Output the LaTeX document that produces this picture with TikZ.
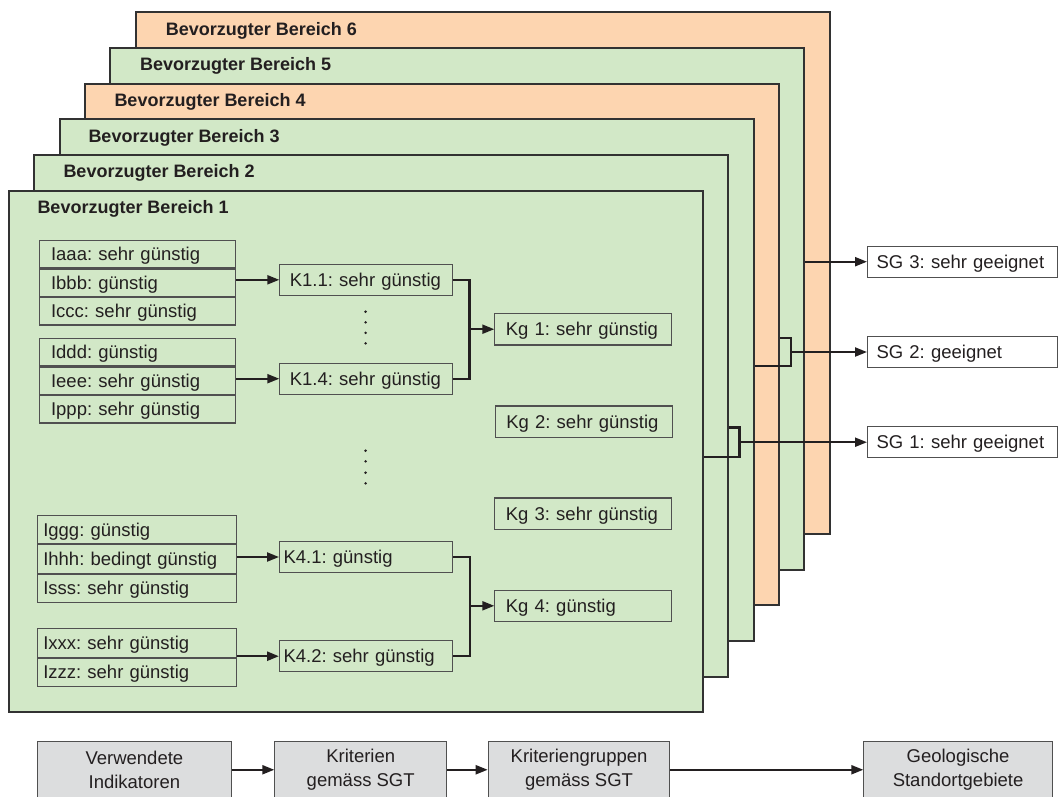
\documentclass[tikz,border=0pt]{standalone}
\usepackage{fontspec}
\setmainfont{Liberation Sans}
\usetikzlibrary{arrows.meta}
\frenchspacing

\definecolor{panelgreen}{RGB}{210,232,199}
\definecolor{panelorange}{RGB}{253,213,176}
\definecolor{frameline}{RGB}{50,50,50}
\definecolor{boxline}{RGB}{80,80,80}
\definecolor{legendfill}{RGB}{220,221,222}
\definecolor{ink}{RGB}{35,31,32}

\newcommand{\rfont}{\fontsize{18.5pt}{23.3pt}\selectfont\hyphenpenalty=10000 }
\newcommand{\tfont}{\fontsize{18pt}{22pt}\selectfont\bfseries}

\begin{document}
\begin{tikzpicture}[x=1pt,y=-1pt,
  every node/.style={text=ink},
  panel/.style={draw=frameline, line width=2pt, anchor=north west,
    minimum width=694pt, minimum height=521.5pt, inner sep=0pt},
  greenpanel/.style={panel, fill=panelgreen},
  orangepanel/.style={panel, fill=panelorange},
  paneltitle/.style={anchor=base west, inner sep=0pt, font=\tfont},
  ind/.style={draw=boxline, line width=1.1pt, anchor=north west,
    minimum height=27.4pt, text width=172.5pt, inner xsep=12pt, inner ysep=0pt,
    align=left, text height=13.3pt, text depth=0pt, font=\rfont},
  indlow/.style={ind, minimum height=28.2pt, text width=187pt, inner xsep=6pt},
  kbox/.style={draw=boxline, line width=1.1pt, anchor=west,
    minimum height=31pt, text width=153pt, inner xsep=10pt, inner ysep=0pt,
    align=left, text height=13.3pt, text depth=0pt, font=\rfont},
  kboxlow/.style={kbox, text width=165pt, inner xsep=4pt},
  kgbox/.style={kbox, minimum height=31.5pt, text width=155pt, inner xsep=11pt},
  sgbox/.style={kbox, fill=white, text width=172pt, inner xsep=9pt},
  legend/.style={draw=boxline, line width=1.1pt, fill=legendfill, anchor=north west,
    minimum height=57pt, inner sep=0pt, align=center, font=\rfont},
  arr/.style={draw=ink, line width=2.1pt, -{Triangle[length=12pt,width=9pt]}},
  bracket/.style={draw=ink, line width=2.4pt},
]
\useasboundingbox (0,0) rectangle (1059,796);
\clip (0,0) rectangle (1059,796);

% stacked preferred areas, back to front
\node[orangepanel] (p6) at (135.3,11)   {};
\node[greenpanel]  (p5) at (109.3,47)   {};
\node[orangepanel] (p4) at (84.3,82.7)  {};
\node[greenpanel]  (p3) at (59.3,118.3) {};
\node[greenpanel]  (p2) at (32.7,154)   {};
\node[greenpanel]  (p1) at (7.7,189.7)  {};

\node[paneltitle] (t6) at (165.7,35)    {Bevorzugter Bereich 6};
\node[paneltitle] (t5) at (140,70.7)    {Bevorzugter Bereich 5};
\node[paneltitle] (t4) at (114.3,106.7) {Bevorzugter Bereich 4};
\node[paneltitle] (t3) at (88.3,142.3)  {Bevorzugter Bereich 3};
\node[paneltitle] (t2) at (63.3,177.3)  {Bevorzugter Bereich 2};
\node[paneltitle] (t1) at (37.3,213.3)  {Bevorzugter Bereich 1};

% indicator groups
\node[ind] (g1a) at (38.5,240)       {Iaaa: sehr günstig};
\node[ind] (g1b) at (g1a.south west) {Ibbb: günstig};
\node[ind] (g1c) at (g1b.south west) {Iccc: sehr günstig};

\node[ind] (g2a) at (38.5,338)       {Iddd: günstig};
\node[ind] (g2b) at (g2a.south west) {Ieee: sehr günstig};
\node[ind] (g2c) at (g2b.south west) {Ippp: sehr günstig};

\node[indlow] (g3a) at (36.7,515)       {Iggg: günstig};
\node[indlow] (g3b) at (g3a.south west) {Ihhh: bedingt günstig};
\node[indlow] (g3c) at (g3b.south west) {Isss: sehr günstig};

\node[indlow] (g4a) at (36.7,628.3)     {Ixxx: sehr günstig};
\node[indlow] (g4b) at (g4a.south west) {Izzz: sehr günstig};

% criteria
\node[kbox]    (k11) at (279.3,279.8) {K1.1: sehr günstig};
\node[kbox]    (k14) at (279.3,378.7) {K1.4: sehr günstig};
\node[kboxlow] (k41) at (279,557)     {K4.1: günstig};
\node[kboxlow] (k42) at (279,656.2)   {K4.2: sehr günstig};

% criteria groups
\node[kgbox] (kg1) at (494.3,329.2) {Kg 1: sehr günstig};
\node[kgbox] (kg2) at (494.8,421.7) {Kg 2: sehr günstig};
\node[kgbox] (kg3) at (494.3,513.7) {Kg 3: sehr günstig};
\node[kgbox] (kg4) at (494.3,605.8) {Kg 4: günstig};

% omitted criteria
\foreach \yy in {311.7,322.3,332.8,343.3,450.7,461.3,472.7,483.3}
  \fill[ink] (365.6,\yy) circle (1.4pt);

% indicators to criteria
\draw[arr] (g1b.east |- k11.west) -- (k11.west);
\draw[arr] (g2b.east |- k14.west) -- (k14.west);
\draw[arr] (g3b.east |- k41.west) -- (k41.west);
\draw[arr, line width=2.5pt] (g4a.south east |- k42.west) -- (k42.west);

% criteria to criteria groups
\coordinate (b1) at (469.5,329.2);
\coordinate (b4) at (470,605.8);
\draw[bracket] (k11.east) -| (b1);
\draw[bracket] (k14.east) -| (b1);
\draw[arr] (b1) -- (kg1.west);
\draw[bracket] (k41.east) -| (b4);
\draw[bracket] (k42.east) -| (b4);
\draw[arr] (b4) -- (kg4.west);

% site areas
\node[sgbox] (sg3) at (867,261.7) {SG 3: sehr geeignet};
\node[sgbox] (sg2) at (867,352)   {SG 2: geeignet};
\node[sgbox] (sg1) at (867,442.2) {SG 1: sehr geeignet};

\draw[arr] (sg3.west -| p5.east) -- (sg3.west);

\coordinate (j2a) at (790.7,366);
\coordinate (j2b) at (790.7,337.7);
\draw[bracket] (j2a -| p3.east) -- (j2a) -- (j2b) -- (j2b -| p4.east);
\draw[arr] (j2a |- sg2.west) -- (sg2.west);

\coordinate (j1a) at (739.3,456.7);
\coordinate (j1b) at (739.3,427.3);
\draw[bracket] (j1a -| p1.east) -- (j1a) -- (j1b) -- (j1b -| p2.east);
\draw[arr] (j1a |- sg1.west) -- (sg1.west);

% legend row
\node[legend, minimum width=194.3pt] (l1) at (36.7,740.7)  {Verwendete\\Indikatoren};
\node[legend, minimum width=171.7pt] (l2) at (274.3,740.7) {Kriterien\\gemäss SGT};
\node[legend, minimum width=181.6pt] (l3) at (487.7,740.7) {Kriteriengruppen\\gemäss SGT};
\node[legend, minimum width=188.4pt] (l4) at (863.3,740.7) {Geologische\\Standortgebiete};
\draw[arr] (l1) -- (l2);
\draw[arr] (l2) -- (l3);
\draw[arr] (l3) -- (l4);
\end{tikzpicture}
\end{document}
